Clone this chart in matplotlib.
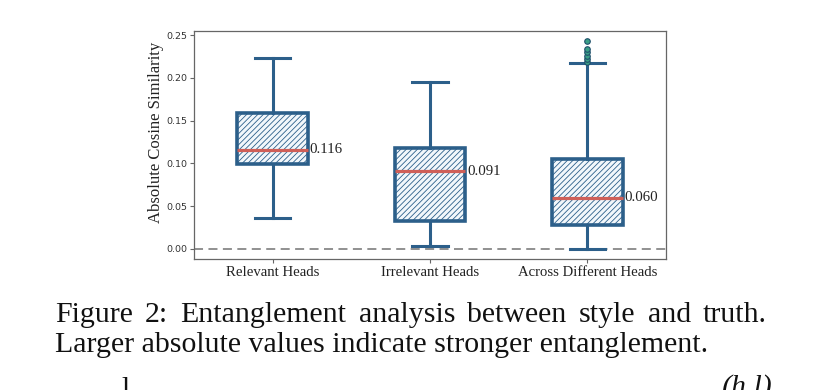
import matplotlib
matplotlib.use('Agg')
import matplotlib.pyplot as plt

# ---------------- data ----------------
categories = ['Relevant Heads', 'Irrelevant Heads', 'Across Different Heads']
medians = [0.116, 0.091, 0.060]
q1_vals = [0.099, 0.033, 0.028]
q3_vals = [0.159, 0.118, 0.105]
whisker_low = [0.036, 0.003, 0.000]
whisker_high = [0.223, 0.195, 0.217]
fliers = [[], [], [0.219, 0.222, 0.226, 0.230, 0.234, 0.243]]
yticks = [0.00, 0.05, 0.10, 0.15, 0.20, 0.25]
caption_line1 = "Figure 2: Entanglement analysis between style and truth."
caption_line2 = "Larger absolute values indicate stronger entanglement."

# ---------------- style ----------------
EDGE = '#2c5f8a'
FILL = '#f2f7fb'
MED = '#cf5f58'
SERIF = ['Liberation Serif', 'DejaVu Serif']

W, H = 826, 390
fig = plt.figure(figsize=(W / 100, H / 100), dpi=100)
fig.patch.set_facecolor('white')

plt.rcParams['hatch.linewidth'] = 0.6
ax = fig.add_axes([194 / W, 1 - 259 / H, (666 - 194) / W, (259 - 31) / H])

stats = []
for i, cat in enumerate(categories):
    stats.append(dict(med=medians[i], q1=q1_vals[i], q3=q3_vals[i],
                      whislo=whisker_low[i], whishi=whisker_high[i],
                      fliers=fliers[i], label=cat))

positions = [1, 2, 3]
width = 0.45
ax.bxp(stats, positions=positions, widths=width, patch_artist=True,
       boxprops=dict(facecolor=FILL, edgecolor=EDGE, linewidth=2.6, hatch='//////'),
       whiskerprops=dict(color=EDGE, linewidth=2.2),
       capprops=dict(color=EDGE, linewidth=2.2),
       medianprops=dict(color=MED, linewidth=2.3),
       flierprops=dict(marker='o', markerfacecolor='#3a9e86',
                       markeredgecolor='#1f4f6b', markersize=4, markeredgewidth=0.8))

ax.axhline(0, color='#888888', linestyle='--', linewidth=1.3, dashes=(5, 3), zorder=0)

for p, m in zip(positions, medians):
    ax.text(p + width / 2 + 0.01, m, f'{m:.3f}', ha='left', va='center',
            family=SERIF, fontsize=10.7, color='#222222')

ax.set_xlim(0.5, 3.5)
ax.set_ylim(-0.0117, 0.2547)
ax.set_yticks(yticks)
ax.set_yticklabels([f'{t:.2f}' for t in yticks], family='DejaVu Sans', fontsize=6.8, color='#333333')
ax.set_xticks(positions)
ax.set_xticklabels(categories, family=SERIF, fontsize=10.6, color='#222222')
ax.tick_params(axis='both', length=3, width=0.8, color='#666666', pad=2)
for s in ax.spines.values():
    s.set_color('#666666')
    s.set_linewidth(0.9)
ax.set_ylabel('Absolute Cosine Similarity', family=SERIF, fontsize=12, color='#222222')
ax.yaxis.set_label_coords(-0.064, 0.555)

# ---------------- caption ----------------
CAP_FS = 21.5
fig.canvas.draw()
renderer = fig.canvas.get_renderer()

# justified first line
words = caption_line1.split(' ')
x_left, x_right = 55, 767
texts = []
widths = []
for w in words:
    t = fig.text(0, 0, w, family=SERIF, fontsize=CAP_FS, color='#111111', ha='left', va='baseline')
    bb = t.get_window_extent(renderer)
    texts.append(t)
    widths.append(bb.width)
gap = (x_right - x_left - sum(widths)) / (len(words) - 1)
x = x_left
for t, wd in zip(texts, widths):
    t.set_position((x / W, 1 - 322 / H))
    x += wd + gap

fig.text(55 / W, 1 - 352 / H, caption_line2, family=SERIF, fontsize=CAP_FS,
         color='#111111', ha='left', va='baseline')

# fragments of the next line (cut off at the bottom edge, as in the reference)
fig.text(121 / W, 1 - 377 / H, 'l', family=SERIF, fontsize=CAP_FS, color='#111111', ha='left', va='top')
fig.text(722 / W, 1 - 374 / H, '(h,l)', family=SERIF, style='italic', fontsize=CAP_FS,
         color='#111111', ha='left', va='top')

fig.savefig('out.png', dpi=100, facecolor='white')
